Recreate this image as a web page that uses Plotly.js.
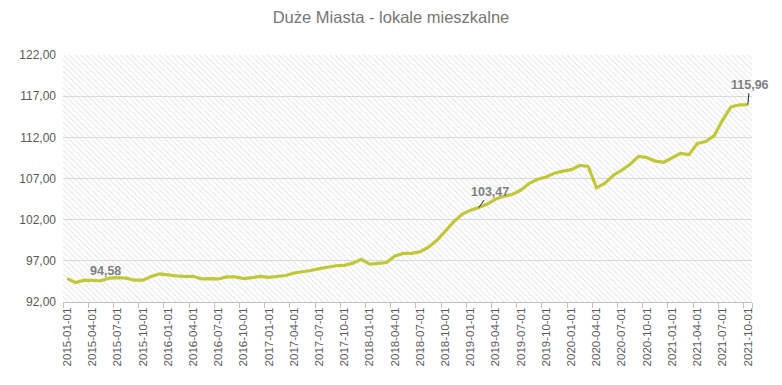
<!DOCTYPE html>
<html>
<head>
<meta charset="utf-8">
<script src="https://cdn.plot.ly/plotly-3.0.1.min.js"></script>
<style>html,body{margin:0;padding:0;background:#fff;}#chart{width:782px;height:385px;}</style>
</head>
<body>
<div id="chart"></div>
<script>
// Months (first day), 2015-01 .. 2021-10
const years = [2015, 2016, 2017, 2018, 2019, 2020, 2021];
const months = ["01","02","03","04","05","06","07","08","09","10","11","12"];
const categories = [];
years.forEach(y => months.forEach(m => { if (!(y === 2021 && +m > 10)) categories.push(y + "-" + m + "-01"); }));

const values = [
  94.85, 94.35, 94.65, 94.57, 94.58, 94.90, 94.95, 94.90, 94.65, 94.65, 95.10, 95.42,
  95.26, 95.18, 95.10, 95.12, 94.80, 94.85, 94.80, 95.05, 95.05, 94.85, 94.97, 95.10,
  95.00, 95.10, 95.22, 95.52, 95.65, 95.83, 96.05, 96.25, 96.40, 96.45, 96.72, 97.20,
  96.60, 96.70, 96.80, 97.60, 97.90, 97.90, 98.10, 98.65, 99.50, 100.60, 101.75, 102.66,
  103.16, 103.47, 103.90, 104.50, 104.85, 105.08, 105.60, 106.42, 106.90, 107.18, 107.65, 107.90,
  108.08, 108.58, 108.47, 105.87, 106.44, 107.40, 108.00, 108.73, 109.68, 109.53, 109.10, 108.97,
  109.53, 110.05, 109.90, 111.25, 111.50, 112.20, 114.10, 115.70, 115.95, 115.96
];

const tickLabels = categories.filter((c, i) => i % 3 === 0);
const labelledIdx = [4, 49, 81];

const fmt = v => v.toFixed(2).replace(".", ",");

const hatch = 'data:image/svg+xml;utf8,' + encodeURIComponent(
  '<svg xmlns="http://www.w3.org/2000/svg" width="689" height="248" viewBox="0 0 689 248" preserveAspectRatio="none">' +
  '<defs><pattern id="p" patternUnits="userSpaceOnUse" width="4" height="4" patternTransform="rotate(-45)">' +
  '<line x1="0" y1="0" x2="0" y2="4" stroke="#cfcfcf" stroke-width="1"/></pattern></defs>' +
  '<rect width="689" height="248" fill="#ffffff"/><rect width="689" height="248" fill="url(#p)"/></svg>');

const annFont = {family: "Liberation Sans, Arial, sans-serif", size: 12.5, color: "#7f7f7f", weight: 700};
const annotations = [
  {x: categories[labelledIdx[0]], y: values[labelledIdx[0]], text: "<b>" + fmt(values[labelledIdx[0]]) + "</b>",
   showarrow: false, yshift: 10, xshift: 5, font: annFont},
  {x: categories[labelledIdx[1]], y: values[labelledIdx[1]], text: "<b>" + fmt(values[labelledIdx[1]]) + "</b>",
   showarrow: true, arrowhead: 0, arrowwidth: 1, arrowcolor: "#222", ax: 11, ay: -16, font: annFont},
  {x: categories[labelledIdx[2]], y: values[labelledIdx[2]], text: "<b>" + fmt(values[labelledIdx[2]]) + "</b>",
   showarrow: true, arrowhead: 0, arrowwidth: 1, arrowcolor: "#222", ax: 2, ay: -20, font: annFont}
];

const trace = {
  x: categories, y: values, type: "scatter", mode: "lines",
  line: {color: "#c0c83a", width: 3.2, shape: "linear"},
  hoverinfo: "x+y"
};

const layout = {
  width: 782, height: 385,
  margin: {l: 63, r: 30, t: 55, b: 83},
  paper_bgcolor: "#ffffff", plot_bgcolor: "rgba(0,0,0,0)",
  separators: ",.",
  showlegend: false,
  title: {text: "Duże Miasta - lokale mieszkalne", x: 0.5, xanchor: "center", y: 0.955, yanchor: "middle",
          font: {family: "Liberation Sans, Arial, sans-serif", size: 16.5, color: "#767676"}},
  font: {family: "Liberation Sans, Arial, sans-serif", color: "#595959"},
  xaxis: {
    type: "category", range: [-0.5, categories.length - 0.5],
    tickmode: "array", tickvals: tickLabels, ticktext: tickLabels,
    tickangle: -90, tickson: "boundaries", ticks: "outside", ticklen: 5, tickcolor: "#bfbfbf",
    showgrid: false, zeroline: false, showline: true, linecolor: "#bfbfbf", linewidth: 1,
    tickfont: {size: 11.5, color: "#595959"}
  },
  yaxis: {
    range: [92, 122], tick0: 92, dtick: 5, tickformat: ".2f",
    showgrid: true, gridcolor: "#d9d9d9", gridwidth: 1, zeroline: false, showline: false,
    ticks: "", ticklabelstandoff: 6,
    tickfont: {size: 12, color: "#595959"}
  },
  images: [{source: hatch, xref: "paper", yref: "paper", x: 0, y: 1, sizex: 1, sizey: 1,
            xanchor: "left", yanchor: "top", sizing: "stretch", layer: "below"}],
  annotations: annotations
};

Plotly.newPlot("chart", [trace], layout, {displayModeBar: false, staticPlot: true});
</script>
</body>
</html>
